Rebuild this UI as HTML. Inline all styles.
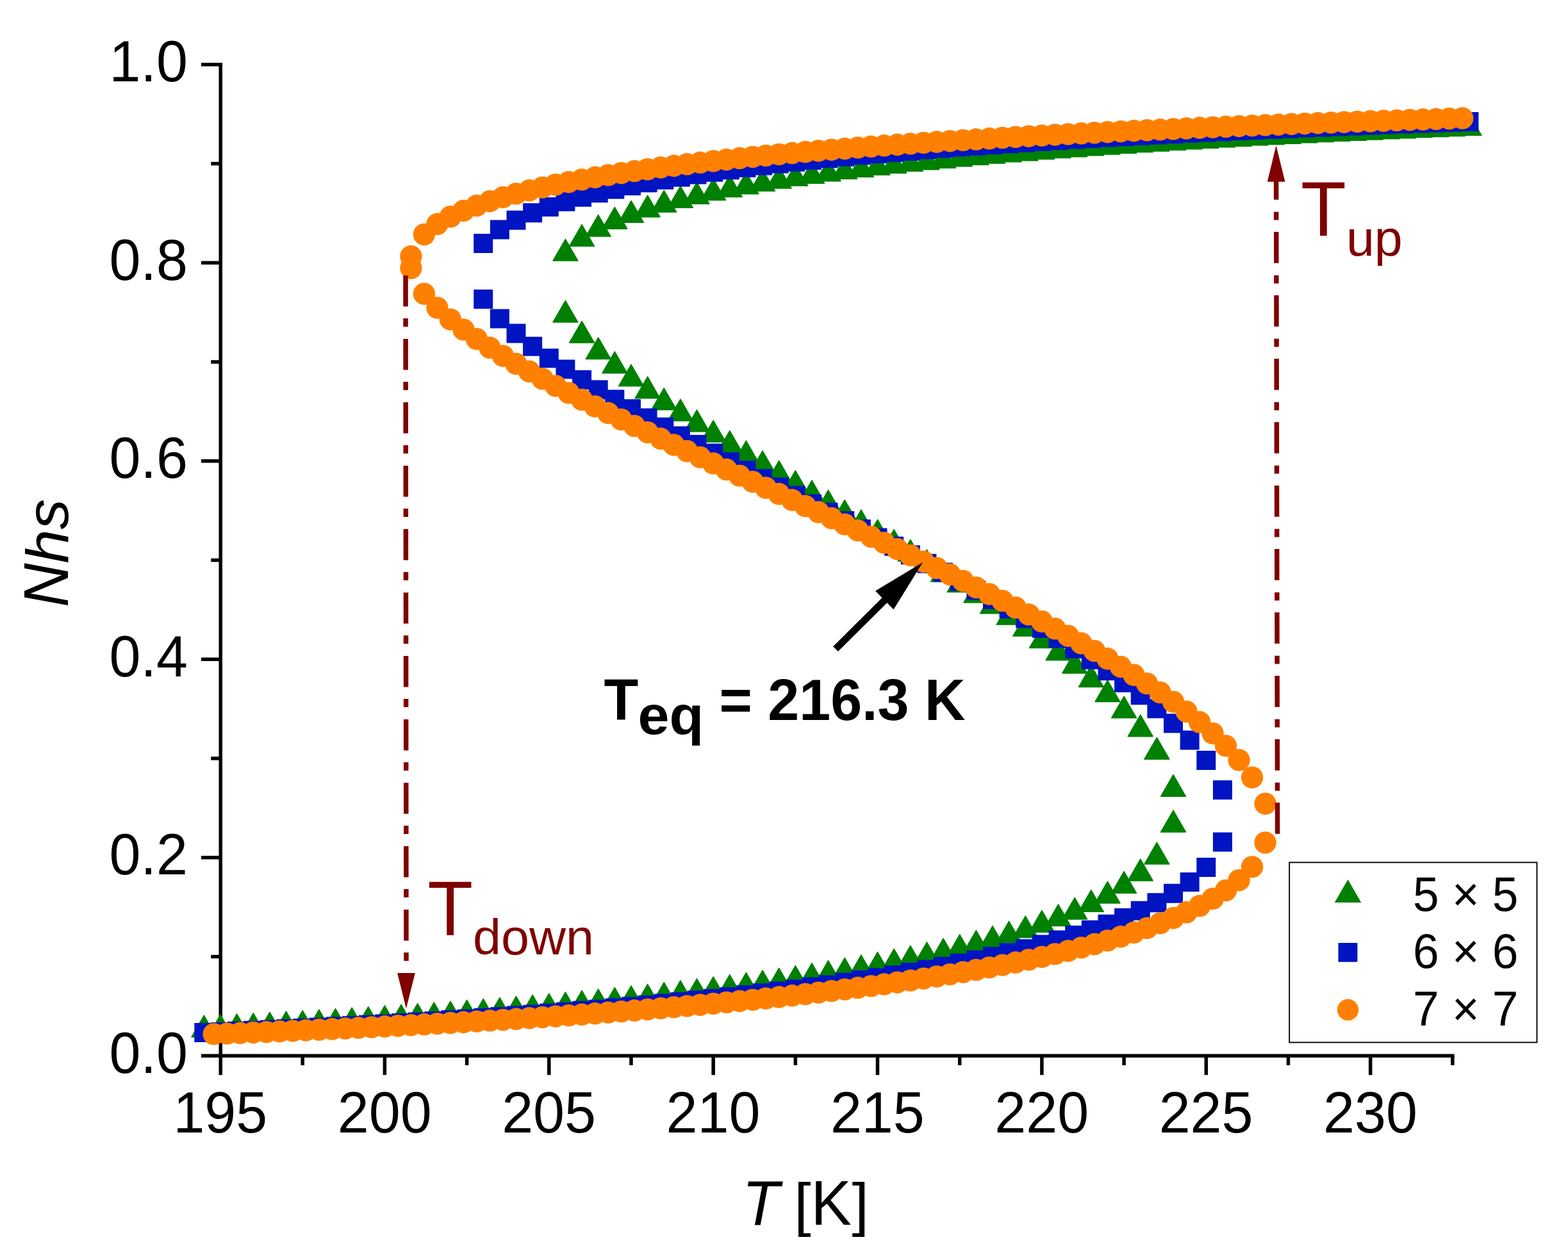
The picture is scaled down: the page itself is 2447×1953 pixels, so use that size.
<!DOCTYPE html>
<html lang="en"><head><meta charset="utf-8"><title>Nhs vs T</title>
<style>
html,body{margin:0;padding:0;background:#fff;}
body{width:2447px;height:1953px;overflow:hidden;}
svg{display:block;}
text{font-family:"Liberation Sans",Arial,Helvetica,sans-serif;font-kerning:none;}
</style></head><body>
<svg width="2447" height="1953" viewBox="0 0 2447 1953">
<rect width="2447" height="1953" fill="#fff"/>
<g stroke="#000" stroke-width="5.5" fill="none">
<path d="M344.25 97.95V1678.2"/>
<path d="M314 1648.3H2269.6"/>
<path d="M344.25 1493.54h-15M344.25 1338.78h-30.3M344.25 1184.02h-15M344.25 1029.26h-30.3M344.25 874.5h-15M344.25 719.74h-30.3M344.25 564.98h-15M344.25 410.22h-30.3M344.25 255.46h-15M344.25 100.7h-30.3"/>
<path d="M472.19 1648.3v14.8M600.38 1648.3v30M728.57 1648.3v14.8M856.76 1648.3v30M984.95 1648.3v14.8M1113.14 1648.3v30M1241.33 1648.3v14.8M1369.52 1648.3v30M1497.71 1648.3v14.8M1625.9 1648.3v30M1754.09 1648.3v14.8M1882.28 1648.3v30M2010.47 1648.3v14.8M2138.66 1648.3v30M2266.85 1648.3v14.8"/>
</g>
<g fill="#000">
<text transform="translate(292.9 1675) scale(1 1.04)" font-size="88" text-anchor="end">0.0</text>
<text transform="translate(292.9 1365.48) scale(1 1.04)" font-size="88" text-anchor="end">0.2</text>
<text transform="translate(292.9 1055.96) scale(1 1.04)" font-size="88" text-anchor="end">0.4</text>
<text transform="translate(292.9 746.44) scale(1 1.04)" font-size="88" text-anchor="end">0.6</text>
<text transform="translate(292.9 436.92) scale(1 1.04)" font-size="88" text-anchor="end">0.8</text>
<text transform="translate(292.9 127.4) scale(1 1.04)" font-size="88" text-anchor="end">1.0</text>
<text transform="translate(343.8 1768) scale(1 1.04)" font-size="88" text-anchor="middle">195</text>
<text transform="translate(600.18 1768) scale(1 1.04)" font-size="88" text-anchor="middle">200</text>
<text transform="translate(856.56 1768) scale(1 1.04)" font-size="88" text-anchor="middle">205</text>
<text transform="translate(1112.94 1768) scale(1 1.04)" font-size="88" text-anchor="middle">210</text>
<text transform="translate(1369.32 1768) scale(1 1.04)" font-size="88" text-anchor="middle">215</text>
<text transform="translate(1625.7 1768) scale(1 1.04)" font-size="88" text-anchor="middle">220</text>
<text transform="translate(1882.08 1768) scale(1 1.04)" font-size="88" text-anchor="middle">225</text>
<text transform="translate(2138.46 1768) scale(1 1.04)" font-size="88" text-anchor="middle">230</text>
<text transform="translate(106 948) rotate(-90) scale(1 1.04)" font-size="95" font-style="italic">N</text>
<text transform="translate(106 879.41) rotate(-90) scale(1 0.975)" font-size="95" font-style="italic">hs</text>
<text transform="translate(1158.3 1911.6) scale(1 1.04)" font-size="95" font-style="italic">T</text>
<text transform="translate(1239.2 1911.6) scale(1 0.985)" font-size="95">[</text>
<text transform="translate(1265.61 1911.6) scale(1 1.04)" font-size="95">K</text>
<text transform="translate(1329.58 1911.6) scale(1 0.985)" font-size="95">]</text>
</g>
<g fill="#008000" stroke="#008000" stroke-width="1.4" stroke-linejoin="round">
<path d="M318.36 1585.22l19.5 33.8h-39z"/><path d="M344 1584.03l19.5 33.8h-39z"/><path d="M369.64 1582.79l19.5 33.8h-39z"/><path d="M395.28 1581.52l19.5 33.8h-39z"/><path d="M420.91 1580.22l19.5 33.8h-39z"/><path d="M446.55 1578.88l19.5 33.8h-39z"/><path d="M472.19 1577.5l19.5 33.8h-39z"/><path d="M497.83 1576.08l19.5 33.8h-39z"/><path d="M523.47 1574.61l19.5 33.8h-39z"/><path d="M549.1 1573.11l19.5 33.8h-39z"/><path d="M574.74 1571.56l19.5 33.8h-39z"/><path d="M600.38 1569.96l19.5 33.8h-39z"/><path d="M626.02 1568.31l19.5 33.8h-39z"/><path d="M651.66 1566.62l19.5 33.8h-39z"/><path d="M677.29 1564.87l19.5 33.8h-39z"/><path d="M702.93 1563.07l19.5 33.8h-39z"/><path d="M728.57 1561.22l19.5 33.8h-39z"/><path d="M754.21 1559.31l19.5 33.8h-39z"/><path d="M779.85 1557.33l19.5 33.8h-39z"/><path d="M805.48 1555.3l19.5 33.8h-39z"/><path d="M831.12 1553.2l19.5 33.8h-39z"/><path d="M856.76 1551.03l19.5 33.8h-39z"/><path d="M882.4 1548.79l19.5 33.8h-39z"/><path d="M882.4 469.27l19.5 33.8h-39z"/><path d="M882.4 373.27l19.5 33.8h-39z"/><path d="M908.04 1546.47l19.5 33.8h-39z"/><path d="M908.04 501.37l19.5 33.8h-39z"/><path d="M908.04 350.59l19.5 33.8h-39z"/><path d="M933.67 1544.08l19.5 33.8h-39z"/><path d="M933.67 526.75l19.5 33.8h-39z"/><path d="M933.67 335.32l19.5 33.8h-39z"/><path d="M959.31 1541.6l19.5 33.8h-39z"/><path d="M959.31 548.86l19.5 33.8h-39z"/><path d="M959.31 323.39l19.5 33.8h-39z"/><path d="M984.95 1539.04l19.5 33.8h-39z"/><path d="M984.95 569.04l19.5 33.8h-39z"/><path d="M984.95 313.46l19.5 33.8h-39z"/><path d="M1010.59 1536.39l19.5 33.8h-39z"/><path d="M1010.59 587.93l19.5 33.8h-39z"/><path d="M1010.59 304.91l19.5 33.8h-39z"/><path d="M1036.23 1533.65l19.5 33.8h-39z"/><path d="M1036.23 605.9l19.5 33.8h-39z"/><path d="M1036.23 297.37l19.5 33.8h-39z"/><path d="M1061.86 1530.8l19.5 33.8h-39z"/><path d="M1061.86 623.19l19.5 33.8h-39z"/><path d="M1061.86 290.62l19.5 33.8h-39z"/><path d="M1087.5 1527.85l19.5 33.8h-39z"/><path d="M1087.5 639.95l19.5 33.8h-39z"/><path d="M1087.5 284.49l19.5 33.8h-39z"/><path d="M1113.14 1524.79l19.5 33.8h-39z"/><path d="M1113.14 656.31l19.5 33.8h-39z"/><path d="M1113.14 278.87l19.5 33.8h-39z"/><path d="M1138.78 1521.61l19.5 33.8h-39z"/><path d="M1138.78 672.34l19.5 33.8h-39z"/><path d="M1138.78 273.69l19.5 33.8h-39z"/><path d="M1164.42 1518.31l19.5 33.8h-39z"/><path d="M1164.42 688.13l19.5 33.8h-39z"/><path d="M1164.42 268.88l19.5 33.8h-39z"/><path d="M1190.05 1514.87l19.5 33.8h-39z"/><path d="M1190.05 703.73l19.5 33.8h-39z"/><path d="M1190.05 264.39l19.5 33.8h-39z"/><path d="M1215.69 1511.3l19.5 33.8h-39z"/><path d="M1215.69 719.19l19.5 33.8h-39z"/><path d="M1215.69 260.18l19.5 33.8h-39z"/><path d="M1241.33 1507.57l19.5 33.8h-39z"/><path d="M1241.33 734.56l19.5 33.8h-39z"/><path d="M1241.33 256.22l19.5 33.8h-39z"/><path d="M1266.97 1503.69l19.5 33.8h-39z"/><path d="M1266.97 749.86l19.5 33.8h-39z"/><path d="M1266.97 252.48l19.5 33.8h-39z"/><path d="M1292.61 1499.63l19.5 33.8h-39z"/><path d="M1292.61 765.14l19.5 33.8h-39z"/><path d="M1292.61 248.94l19.5 33.8h-39z"/><path d="M1318.24 1495.38l19.5 33.8h-39z"/><path d="M1318.24 780.43l19.5 33.8h-39z"/><path d="M1318.24 245.58l19.5 33.8h-39z"/><path d="M1343.88 1490.94l19.5 33.8h-39z"/><path d="M1343.88 795.76l19.5 33.8h-39z"/><path d="M1343.88 242.38l19.5 33.8h-39z"/><path d="M1369.52 1486.28l19.5 33.8h-39z"/><path d="M1369.52 811.16l19.5 33.8h-39z"/><path d="M1369.52 239.33l19.5 33.8h-39z"/><path d="M1395.16 1481.38l19.5 33.8h-39z"/><path d="M1395.16 826.66l19.5 33.8h-39z"/><path d="M1395.16 236.41l19.5 33.8h-39z"/><path d="M1420.8 1476.23l19.5 33.8h-39z"/><path d="M1420.8 842.31l19.5 33.8h-39z"/><path d="M1420.8 233.62l19.5 33.8h-39z"/><path d="M1446.43 1470.79l19.5 33.8h-39z"/><path d="M1446.43 858.12l19.5 33.8h-39z"/><path d="M1446.43 230.95l19.5 33.8h-39z"/><path d="M1472.07 1465.04l19.5 33.8h-39z"/><path d="M1472.07 874.15l19.5 33.8h-39z"/><path d="M1472.07 228.38l19.5 33.8h-39z"/><path d="M1497.71 1458.94l19.5 33.8h-39z"/><path d="M1497.71 890.43l19.5 33.8h-39z"/><path d="M1497.71 225.92l19.5 33.8h-39z"/><path d="M1523.35 1452.45l19.5 33.8h-39z"/><path d="M1523.35 907.02l19.5 33.8h-39z"/><path d="M1523.35 223.54l19.5 33.8h-39z"/><path d="M1548.99 1445.52l19.5 33.8h-39z"/><path d="M1548.99 923.97l19.5 33.8h-39z"/><path d="M1548.99 221.26l19.5 33.8h-39z"/><path d="M1574.62 1438.09l19.5 33.8h-39z"/><path d="M1574.62 941.35l19.5 33.8h-39z"/><path d="M1574.62 219.05l19.5 33.8h-39z"/><path d="M1600.26 1430.07l19.5 33.8h-39z"/><path d="M1600.26 959.25l19.5 33.8h-39z"/><path d="M1600.26 216.92l19.5 33.8h-39z"/><path d="M1625.9 1421.38l19.5 33.8h-39z"/><path d="M1625.9 977.77l19.5 33.8h-39z"/><path d="M1625.9 214.86l19.5 33.8h-39z"/><path d="M1651.54 1411.86l19.5 33.8h-39z"/><path d="M1651.54 997.04l19.5 33.8h-39z"/><path d="M1651.54 212.87l19.5 33.8h-39z"/><path d="M1677.18 1401.35l19.5 33.8h-39z"/><path d="M1677.18 1017.27l19.5 33.8h-39z"/><path d="M1677.18 210.94l19.5 33.8h-39z"/><path d="M1702.81 1389.58l19.5 33.8h-39z"/><path d="M1702.81 1038.7l19.5 33.8h-39z"/><path d="M1702.81 209.08l19.5 33.8h-39z"/><path d="M1728.45 1376.16l19.5 33.8h-39z"/><path d="M1728.45 1061.75l19.5 33.8h-39z"/><path d="M1728.45 207.27l19.5 33.8h-39z"/><path d="M1754.09 1360.43l19.5 33.8h-39z"/><path d="M1754.09 1087.07l19.5 33.8h-39z"/><path d="M1754.09 205.51l19.5 33.8h-39z"/><path d="M1779.73 1341.13l19.5 33.8h-39z"/><path d="M1779.73 1115.91l19.5 33.8h-39z"/><path d="M1779.73 203.81l19.5 33.8h-39z"/><path d="M1805.37 1315.18l19.5 33.8h-39z"/><path d="M1805.37 1151.38l19.5 33.8h-39z"/><path d="M1805.37 202.15l19.5 33.8h-39z"/><path d="M1831 1265.17l19.5 33.8h-39z"/><path d="M1831 1209.47l19.5 33.8h-39z"/><path d="M1831 200.54l19.5 33.8h-39z"/><path d="M1856.64 198.98l19.5 33.8h-39z"/><path d="M1882.28 197.45l19.5 33.8h-39z"/><path d="M1907.92 195.97l19.5 33.8h-39z"/><path d="M1933.56 194.53l19.5 33.8h-39z"/><path d="M1959.19 193.12l19.5 33.8h-39z"/><path d="M1984.83 191.75l19.5 33.8h-39z"/><path d="M2010.47 190.42l19.5 33.8h-39z"/><path d="M2036.11 189.11l19.5 33.8h-39z"/><path d="M2061.75 187.84l19.5 33.8h-39z"/><path d="M2087.38 186.59l19.5 33.8h-39z"/><path d="M2113.02 185.38l19.5 33.8h-39z"/><path d="M2138.66 184.19l19.5 33.8h-39z"/><path d="M2164.3 183.03l19.5 33.8h-39z"/><path d="M2189.94 181.9l19.5 33.8h-39z"/><path d="M2215.57 180.79l19.5 33.8h-39z"/><path d="M2241.21 179.71l19.5 33.8h-39z"/><path d="M2266.85 178.65l19.5 33.8h-39z"/><path d="M2292.49 177.61l19.5 33.8h-39z"/>
</g>
<g fill="#0014c2" stroke="#0014c2" stroke-width="1.4" stroke-linejoin="round">
<rect x="304.06" y="1597.72" width="28.6" height="28.6"/><rect x="329.7" y="1596.65" width="28.6" height="28.6"/><rect x="355.34" y="1595.55" width="28.6" height="28.6"/><rect x="380.98" y="1594.42" width="28.6" height="28.6"/><rect x="406.61" y="1593.26" width="28.6" height="28.6"/><rect x="432.25" y="1592.06" width="28.6" height="28.6"/><rect x="457.89" y="1590.83" width="28.6" height="28.6"/><rect x="483.53" y="1589.57" width="28.6" height="28.6"/><rect x="509.17" y="1588.27" width="28.6" height="28.6"/><rect x="534.8" y="1586.93" width="28.6" height="28.6"/><rect x="560.44" y="1585.55" width="28.6" height="28.6"/><rect x="586.08" y="1584.14" width="28.6" height="28.6"/><rect x="611.72" y="1582.68" width="28.6" height="28.6"/><rect x="637.36" y="1581.18" width="28.6" height="28.6"/><rect x="662.99" y="1579.63" width="28.6" height="28.6"/><rect x="688.63" y="1578.04" width="28.6" height="28.6"/><rect x="714.27" y="1576.4" width="28.6" height="28.6"/><rect x="739.91" y="1574.72" width="28.6" height="28.6"/><rect x="739.91" y="452.8" width="28.6" height="28.6"/><rect x="739.91" y="365.6" width="28.6" height="28.6"/><rect x="765.55" y="1572.98" width="28.6" height="28.6"/><rect x="765.55" y="483.1" width="28.6" height="28.6"/><rect x="765.55" y="344.3" width="28.6" height="28.6"/><rect x="791.18" y="1571.18" width="28.6" height="28.6"/><rect x="791.18" y="506.14" width="28.6" height="28.6"/><rect x="791.18" y="329.36" width="28.6" height="28.6"/><rect x="816.82" y="1569.34" width="28.6" height="28.6"/><rect x="816.82" y="526.52" width="28.6" height="28.6"/><rect x="816.82" y="318.01" width="28.6" height="28.6"/><rect x="842.46" y="1567.43" width="28.6" height="28.6"/><rect x="842.46" y="545.02" width="28.6" height="28.6"/><rect x="842.46" y="308.6" width="28.6" height="28.6"/><rect x="868.1" y="1565.46" width="28.6" height="28.6"/><rect x="868.1" y="562.26" width="28.6" height="28.6"/><rect x="868.1" y="300.49" width="28.6" height="28.6"/><rect x="893.74" y="1563.44" width="28.6" height="28.6"/><rect x="893.74" y="578.58" width="28.6" height="28.6"/><rect x="893.74" y="293.34" width="28.6" height="28.6"/><rect x="919.37" y="1561.34" width="28.6" height="28.6"/><rect x="919.37" y="594.22" width="28.6" height="28.6"/><rect x="919.37" y="286.94" width="28.6" height="28.6"/><rect x="945.01" y="1559.18" width="28.6" height="28.6"/><rect x="945.01" y="609.31" width="28.6" height="28.6"/><rect x="945.01" y="281.14" width="28.6" height="28.6"/><rect x="970.65" y="1556.95" width="28.6" height="28.6"/><rect x="970.65" y="623.98" width="28.6" height="28.6"/><rect x="970.65" y="275.82" width="28.6" height="28.6"/><rect x="996.29" y="1554.64" width="28.6" height="28.6"/><rect x="996.29" y="638.3" width="28.6" height="28.6"/><rect x="996.29" y="270.92" width="28.6" height="28.6"/><rect x="1021.93" y="1552.26" width="28.6" height="28.6"/><rect x="1021.93" y="652.34" width="28.6" height="28.6"/><rect x="1021.93" y="266.36" width="28.6" height="28.6"/><rect x="1047.56" y="1549.79" width="28.6" height="28.6"/><rect x="1047.56" y="666.15" width="28.6" height="28.6"/><rect x="1047.56" y="262.12" width="28.6" height="28.6"/><rect x="1073.2" y="1547.24" width="28.6" height="28.6"/><rect x="1073.2" y="679.76" width="28.6" height="28.6"/><rect x="1073.2" y="258.13" width="28.6" height="28.6"/><rect x="1098.84" y="1544.59" width="28.6" height="28.6"/><rect x="1098.84" y="693.23" width="28.6" height="28.6"/><rect x="1098.84" y="254.39" width="28.6" height="28.6"/><rect x="1124.48" y="1541.85" width="28.6" height="28.6"/><rect x="1124.48" y="706.58" width="28.6" height="28.6"/><rect x="1124.48" y="250.85" width="28.6" height="28.6"/><rect x="1150.12" y="1539.02" width="28.6" height="28.6"/><rect x="1150.12" y="719.83" width="28.6" height="28.6"/><rect x="1150.12" y="247.5" width="28.6" height="28.6"/><rect x="1175.75" y="1536.07" width="28.6" height="28.6"/><rect x="1175.75" y="733.01" width="28.6" height="28.6"/><rect x="1175.75" y="244.32" width="28.6" height="28.6"/><rect x="1201.39" y="1533.02" width="28.6" height="28.6"/><rect x="1201.39" y="746.15" width="28.6" height="28.6"/><rect x="1201.39" y="241.3" width="28.6" height="28.6"/><rect x="1227.03" y="1529.84" width="28.6" height="28.6"/><rect x="1227.03" y="759.26" width="28.6" height="28.6"/><rect x="1227.03" y="238.42" width="28.6" height="28.6"/><rect x="1252.67" y="1526.55" width="28.6" height="28.6"/><rect x="1252.67" y="772.36" width="28.6" height="28.6"/><rect x="1252.67" y="235.66" width="28.6" height="28.6"/><rect x="1278.31" y="1523.11" width="28.6" height="28.6"/><rect x="1278.31" y="785.47" width="28.6" height="28.6"/><rect x="1278.31" y="233.03" width="28.6" height="28.6"/><rect x="1303.94" y="1519.54" width="28.6" height="28.6"/><rect x="1303.94" y="798.62" width="28.6" height="28.6"/><rect x="1303.94" y="230.5" width="28.6" height="28.6"/><rect x="1329.58" y="1515.81" width="28.6" height="28.6"/><rect x="1329.58" y="811.82" width="28.6" height="28.6"/><rect x="1329.58" y="228.07" width="28.6" height="28.6"/><rect x="1355.22" y="1511.92" width="28.6" height="28.6"/><rect x="1355.22" y="825.08" width="28.6" height="28.6"/><rect x="1355.22" y="225.74" width="28.6" height="28.6"/><rect x="1380.86" y="1507.86" width="28.6" height="28.6"/><rect x="1380.86" y="838.43" width="28.6" height="28.6"/><rect x="1380.86" y="223.5" width="28.6" height="28.6"/><rect x="1406.5" y="1503.6" width="28.6" height="28.6"/><rect x="1406.5" y="851.9" width="28.6" height="28.6"/><rect x="1406.5" y="221.34" width="28.6" height="28.6"/><rect x="1432.13" y="1499.14" width="28.6" height="28.6"/><rect x="1432.13" y="865.49" width="28.6" height="28.6"/><rect x="1432.13" y="219.26" width="28.6" height="28.6"/><rect x="1457.77" y="1494.46" width="28.6" height="28.6"/><rect x="1457.77" y="879.23" width="28.6" height="28.6"/><rect x="1457.77" y="217.25" width="28.6" height="28.6"/><rect x="1483.41" y="1489.54" width="28.6" height="28.6"/><rect x="1483.41" y="893.15" width="28.6" height="28.6"/><rect x="1483.41" y="215.31" width="28.6" height="28.6"/><rect x="1509.05" y="1484.35" width="28.6" height="28.6"/><rect x="1509.05" y="907.28" width="28.6" height="28.6"/><rect x="1509.05" y="213.43" width="28.6" height="28.6"/><rect x="1534.69" y="1478.87" width="28.6" height="28.6"/><rect x="1534.69" y="921.64" width="28.6" height="28.6"/><rect x="1534.69" y="211.61" width="28.6" height="28.6"/><rect x="1560.32" y="1473.06" width="28.6" height="28.6"/><rect x="1560.32" y="936.28" width="28.6" height="28.6"/><rect x="1560.32" y="209.85" width="28.6" height="28.6"/><rect x="1585.96" y="1466.89" width="28.6" height="28.6"/><rect x="1585.96" y="951.23" width="28.6" height="28.6"/><rect x="1585.96" y="208.14" width="28.6" height="28.6"/><rect x="1611.6" y="1460.3" width="28.6" height="28.6"/><rect x="1611.6" y="966.56" width="28.6" height="28.6"/><rect x="1611.6" y="206.48" width="28.6" height="28.6"/><rect x="1637.24" y="1453.25" width="28.6" height="28.6"/><rect x="1637.24" y="982.3" width="28.6" height="28.6"/><rect x="1637.24" y="204.88" width="28.6" height="28.6"/><rect x="1662.88" y="1445.66" width="28.6" height="28.6"/><rect x="1662.88" y="998.55" width="28.6" height="28.6"/><rect x="1662.88" y="203.31" width="28.6" height="28.6"/><rect x="1688.51" y="1437.44" width="28.6" height="28.6"/><rect x="1688.51" y="1015.4" width="28.6" height="28.6"/><rect x="1688.51" y="201.8" width="28.6" height="28.6"/><rect x="1714.15" y="1428.46" width="28.6" height="28.6"/><rect x="1714.15" y="1032.96" width="28.6" height="28.6"/><rect x="1714.15" y="200.32" width="28.6" height="28.6"/><rect x="1739.79" y="1418.58" width="28.6" height="28.6"/><rect x="1739.79" y="1051.41" width="28.6" height="28.6"/><rect x="1739.79" y="198.89" width="28.6" height="28.6"/><rect x="1765.43" y="1407.55" width="28.6" height="28.6"/><rect x="1765.43" y="1070.97" width="28.6" height="28.6"/><rect x="1765.43" y="197.49" width="28.6" height="28.6"/><rect x="1791.07" y="1395.04" width="28.6" height="28.6"/><rect x="1791.07" y="1092" width="28.6" height="28.6"/><rect x="1791.07" y="196.13" width="28.6" height="28.6"/><rect x="1816.7" y="1380.47" width="28.6" height="28.6"/><rect x="1816.7" y="1115.06" width="28.6" height="28.6"/><rect x="1816.7" y="194.8" width="28.6" height="28.6"/><rect x="1842.34" y="1362.81" width="28.6" height="28.6"/><rect x="1842.34" y="1141.19" width="28.6" height="28.6"/><rect x="1842.34" y="193.51" width="28.6" height="28.6"/><rect x="1867.98" y="1339.67" width="28.6" height="28.6"/><rect x="1867.98" y="1172.79" width="28.6" height="28.6"/><rect x="1867.98" y="192.25" width="28.6" height="28.6"/><rect x="1893.62" y="1300.2" width="28.6" height="28.6"/><rect x="1893.62" y="1218.9" width="28.6" height="28.6"/><rect x="1893.62" y="191.02" width="28.6" height="28.6"/><rect x="1919.26" y="189.82" width="28.6" height="28.6"/><rect x="1944.89" y="188.65" width="28.6" height="28.6"/><rect x="1970.53" y="187.51" width="28.6" height="28.6"/><rect x="1996.17" y="186.39" width="28.6" height="28.6"/><rect x="2021.81" y="185.3" width="28.6" height="28.6"/><rect x="2047.45" y="184.23" width="28.6" height="28.6"/><rect x="2073.08" y="183.19" width="28.6" height="28.6"/><rect x="2098.72" y="182.17" width="28.6" height="28.6"/><rect x="2124.36" y="181.17" width="28.6" height="28.6"/><rect x="2150" y="180.19" width="28.6" height="28.6"/><rect x="2175.64" y="179.23" width="28.6" height="28.6"/><rect x="2201.27" y="178.29" width="28.6" height="28.6"/><rect x="2226.91" y="177.37" width="28.6" height="28.6"/><rect x="2252.55" y="176.47" width="28.6" height="28.6"/><rect x="2278.19" y="175.59" width="28.6" height="28.6"/>
</g>
<g fill="#ff8000">
<circle cx="333.74" cy="1614.38" r="17.2"/><circle cx="354.26" cy="1613.59" r="17.2"/><circle cx="374.77" cy="1612.78" r="17.2"/><circle cx="395.28" cy="1611.95" r="17.2"/><circle cx="415.79" cy="1611.1" r="17.2"/><circle cx="436.3" cy="1610.23" r="17.2"/><circle cx="456.81" cy="1609.34" r="17.2"/><circle cx="477.32" cy="1608.44" r="17.2"/><circle cx="497.83" cy="1607.51" r="17.2"/><circle cx="518.34" cy="1606.56" r="17.2"/><circle cx="538.85" cy="1605.6" r="17.2"/><circle cx="559.36" cy="1604.61" r="17.2"/><circle cx="579.87" cy="1603.59" r="17.2"/><circle cx="600.38" cy="1602.56" r="17.2"/><circle cx="620.89" cy="1601.5" r="17.2"/><circle cx="641.4" cy="1600.41" r="17.2"/><circle cx="641.4" cy="418.5" r="17.2"/><circle cx="641.4" cy="400.1" r="17.2"/><circle cx="661.91" cy="1599.3" r="17.2"/><circle cx="661.91" cy="458.7" r="17.2"/><circle cx="661.91" cy="366" r="17.2"/><circle cx="682.42" cy="1598.17" r="17.2"/><circle cx="682.42" cy="480.54" r="17.2"/><circle cx="682.42" cy="349.8" r="17.2"/><circle cx="702.93" cy="1597.01" r="17.2"/><circle cx="702.93" cy="498.71" r="17.2"/><circle cx="702.93" cy="338.26" r="17.2"/><circle cx="723.44" cy="1595.82" r="17.2"/><circle cx="723.44" cy="514.67" r="17.2"/><circle cx="723.44" cy="328.93" r="17.2"/><circle cx="743.95" cy="1594.6" r="17.2"/><circle cx="743.95" cy="529.23" r="17.2"/><circle cx="743.95" cy="321.03" r="17.2"/><circle cx="764.46" cy="1593.36" r="17.2"/><circle cx="764.46" cy="542.82" r="17.2"/><circle cx="764.46" cy="314.12" r="17.2"/><circle cx="784.97" cy="1592.09" r="17.2"/><circle cx="784.97" cy="555.68" r="17.2"/><circle cx="784.97" cy="307.96" r="17.2"/><circle cx="805.48" cy="1590.78" r="17.2"/><circle cx="805.48" cy="567.98" r="17.2"/><circle cx="805.48" cy="302.39" r="17.2"/><circle cx="825.99" cy="1589.45" r="17.2"/><circle cx="825.99" cy="579.81" r="17.2"/><circle cx="825.99" cy="297.3" r="17.2"/><circle cx="846.5" cy="1588.08" r="17.2"/><circle cx="846.5" cy="591.28" r="17.2"/><circle cx="846.5" cy="292.61" r="17.2"/><circle cx="867.02" cy="1586.68" r="17.2"/><circle cx="867.02" cy="602.43" r="17.2"/><circle cx="867.02" cy="288.26" r="17.2"/><circle cx="887.53" cy="1585.24" r="17.2"/><circle cx="887.53" cy="613.33" r="17.2"/><circle cx="887.53" cy="284.2" r="17.2"/><circle cx="908.04" cy="1583.77" r="17.2"/><circle cx="908.04" cy="624" r="17.2"/><circle cx="908.04" cy="280.39" r="17.2"/><circle cx="928.55" cy="1582.27" r="17.2"/><circle cx="928.55" cy="634.48" r="17.2"/><circle cx="928.55" cy="276.8" r="17.2"/><circle cx="949.06" cy="1580.72" r="17.2"/><circle cx="949.06" cy="644.79" r="17.2"/><circle cx="949.06" cy="273.41" r="17.2"/><circle cx="969.57" cy="1579.14" r="17.2"/><circle cx="969.57" cy="654.96" r="17.2"/><circle cx="969.57" cy="270.2" r="17.2"/><circle cx="990.08" cy="1577.52" r="17.2"/><circle cx="990.08" cy="665" r="17.2"/><circle cx="990.08" cy="267.15" r="17.2"/><circle cx="1010.59" cy="1575.85" r="17.2"/><circle cx="1010.59" cy="674.94" r="17.2"/><circle cx="1010.59" cy="264.24" r="17.2"/><circle cx="1031.1" cy="1574.14" r="17.2"/><circle cx="1031.1" cy="684.79" r="17.2"/><circle cx="1031.1" cy="261.46" r="17.2"/><circle cx="1051.61" cy="1572.39" r="17.2"/><circle cx="1051.61" cy="694.56" r="17.2"/><circle cx="1051.61" cy="258.81" r="17.2"/><circle cx="1072.12" cy="1570.59" r="17.2"/><circle cx="1072.12" cy="704.26" r="17.2"/><circle cx="1072.12" cy="256.26" r="17.2"/><circle cx="1092.63" cy="1568.74" r="17.2"/><circle cx="1092.63" cy="713.9" r="17.2"/><circle cx="1092.63" cy="253.82" r="17.2"/><circle cx="1113.14" cy="1566.84" r="17.2"/><circle cx="1113.14" cy="723.5" r="17.2"/><circle cx="1113.14" cy="251.47" r="17.2"/><circle cx="1133.65" cy="1564.9" r="17.2"/><circle cx="1133.65" cy="733.05" r="17.2"/><circle cx="1133.65" cy="249.21" r="17.2"/><circle cx="1154.16" cy="1562.89" r="17.2"/><circle cx="1154.16" cy="742.58" r="17.2"/><circle cx="1154.16" cy="247.04" r="17.2"/><circle cx="1174.67" cy="1560.83" r="17.2"/><circle cx="1174.67" cy="752.08" r="17.2"/><circle cx="1174.67" cy="244.94" r="17.2"/><circle cx="1195.18" cy="1558.72" r="17.2"/><circle cx="1195.18" cy="761.57" r="17.2"/><circle cx="1195.18" cy="242.91" r="17.2"/><circle cx="1215.69" cy="1556.54" r="17.2"/><circle cx="1215.69" cy="771.06" r="17.2"/><circle cx="1215.69" cy="240.95" r="17.2"/><circle cx="1236.2" cy="1554.3" r="17.2"/><circle cx="1236.2" cy="780.54" r="17.2"/><circle cx="1236.2" cy="239.05" r="17.2"/><circle cx="1256.71" cy="1551.99" r="17.2"/><circle cx="1256.71" cy="790.03" r="17.2"/><circle cx="1256.71" cy="237.22" r="17.2"/><circle cx="1277.22" cy="1549.61" r="17.2"/><circle cx="1277.22" cy="799.53" r="17.2"/><circle cx="1277.22" cy="235.44" r="17.2"/><circle cx="1297.73" cy="1547.16" r="17.2"/><circle cx="1297.73" cy="809.05" r="17.2"/><circle cx="1297.73" cy="233.71" r="17.2"/><circle cx="1318.24" cy="1544.63" r="17.2"/><circle cx="1318.24" cy="818.59" r="17.2"/><circle cx="1318.24" cy="232.03" r="17.2"/><circle cx="1338.75" cy="1542.03" r="17.2"/><circle cx="1338.75" cy="828.18" r="17.2"/><circle cx="1338.75" cy="230.41" r="17.2"/><circle cx="1359.26" cy="1539.34" r="17.2"/><circle cx="1359.26" cy="837.8" r="17.2"/><circle cx="1359.26" cy="228.82" r="17.2"/><circle cx="1379.78" cy="1536.56" r="17.2"/><circle cx="1379.78" cy="847.46" r="17.2"/><circle cx="1379.78" cy="227.28" r="17.2"/><circle cx="1400.29" cy="1533.69" r="17.2"/><circle cx="1400.29" cy="857.18" r="17.2"/><circle cx="1400.29" cy="225.79" r="17.2"/><circle cx="1420.8" cy="1530.72" r="17.2"/><circle cx="1420.8" cy="866.97" r="17.2"/><circle cx="1420.8" cy="224.33" r="17.2"/><circle cx="1441.31" cy="1527.64" r="17.2"/><circle cx="1441.31" cy="876.82" r="17.2"/><circle cx="1441.31" cy="222.91" r="17.2"/><circle cx="1461.82" cy="1524.46" r="17.2"/><circle cx="1461.82" cy="886.75" r="17.2"/><circle cx="1461.82" cy="221.52" r="17.2"/><circle cx="1482.33" cy="1521.15" r="17.2"/><circle cx="1482.33" cy="896.76" r="17.2"/><circle cx="1482.33" cy="220.18" r="17.2"/><circle cx="1502.84" cy="1517.72" r="17.2"/><circle cx="1502.84" cy="906.88" r="17.2"/><circle cx="1502.84" cy="218.86" r="17.2"/><circle cx="1523.35" cy="1514.16" r="17.2"/><circle cx="1523.35" cy="917.1" r="17.2"/><circle cx="1523.35" cy="217.57" r="17.2"/><circle cx="1543.86" cy="1510.46" r="17.2"/><circle cx="1543.86" cy="927.43" r="17.2"/><circle cx="1543.86" cy="216.32" r="17.2"/><circle cx="1564.37" cy="1506.6" r="17.2"/><circle cx="1564.37" cy="937.9" r="17.2"/><circle cx="1564.37" cy="215.09" r="17.2"/><circle cx="1584.88" cy="1502.57" r="17.2"/><circle cx="1584.88" cy="948.51" r="17.2"/><circle cx="1584.88" cy="213.9" r="17.2"/><circle cx="1605.39" cy="1498.37" r="17.2"/><circle cx="1605.39" cy="959.27" r="17.2"/><circle cx="1605.39" cy="212.72" r="17.2"/><circle cx="1625.9" cy="1493.97" r="17.2"/><circle cx="1625.9" cy="970.22" r="17.2"/><circle cx="1625.9" cy="211.58" r="17.2"/><circle cx="1646.41" cy="1489.36" r="17.2"/><circle cx="1646.41" cy="981.35" r="17.2"/><circle cx="1646.41" cy="210.46" r="17.2"/><circle cx="1666.92" cy="1484.52" r="17.2"/><circle cx="1666.92" cy="992.7" r="17.2"/><circle cx="1666.92" cy="209.36" r="17.2"/><circle cx="1687.43" cy="1479.42" r="17.2"/><circle cx="1687.43" cy="1004.29" r="17.2"/><circle cx="1687.43" cy="208.29" r="17.2"/><circle cx="1707.94" cy="1474.03" r="17.2"/><circle cx="1707.94" cy="1016.15" r="17.2"/><circle cx="1707.94" cy="207.24" r="17.2"/><circle cx="1728.45" cy="1468.33" r="17.2"/><circle cx="1728.45" cy="1028.32" r="17.2"/><circle cx="1728.45" cy="206.21" r="17.2"/><circle cx="1748.96" cy="1462.27" r="17.2"/><circle cx="1748.96" cy="1040.83" r="17.2"/><circle cx="1748.96" cy="205.2" r="17.2"/><circle cx="1769.47" cy="1455.8" r="17.2"/><circle cx="1769.47" cy="1053.74" r="17.2"/><circle cx="1769.47" cy="204.22" r="17.2"/><circle cx="1789.98" cy="1448.85" r="17.2"/><circle cx="1789.98" cy="1067.11" r="17.2"/><circle cx="1789.98" cy="203.25" r="17.2"/><circle cx="1810.49" cy="1441.36" r="17.2"/><circle cx="1810.49" cy="1081.02" r="17.2"/><circle cx="1810.49" cy="202.3" r="17.2"/><circle cx="1831" cy="1433.21" r="17.2"/><circle cx="1831" cy="1095.58" r="17.2"/><circle cx="1831" cy="201.37" r="17.2"/><circle cx="1851.51" cy="1424.27" r="17.2"/><circle cx="1851.51" cy="1110.93" r="17.2"/><circle cx="1851.51" cy="200.46" r="17.2"/><circle cx="1872.02" cy="1414.32" r="17.2"/><circle cx="1872.02" cy="1127.27" r="17.2"/><circle cx="1872.02" cy="199.56" r="17.2"/><circle cx="1892.54" cy="1403.06" r="17.2"/><circle cx="1892.54" cy="1144.92" r="17.2"/><circle cx="1892.54" cy="198.68" r="17.2"/><circle cx="1913.05" cy="1389.99" r="17.2"/><circle cx="1913.05" cy="1164.37" r="17.2"/><circle cx="1913.05" cy="197.82" r="17.2"/><circle cx="1933.56" cy="1374.17" r="17.2"/><circle cx="1933.56" cy="1186.57" r="17.2"/><circle cx="1933.56" cy="196.97" r="17.2"/><circle cx="1954.07" cy="1353.4" r="17.2"/><circle cx="1954.07" cy="1213.73" r="17.2"/><circle cx="1954.07" cy="196.14" r="17.2"/><circle cx="1974.58" cy="1315.5" r="17.2"/><circle cx="1974.58" cy="1254.7" r="17.2"/><circle cx="1974.58" cy="195.32" r="17.2"/><circle cx="1995.09" cy="194.52" r="17.2"/><circle cx="2015.6" cy="193.73" r="17.2"/><circle cx="2036.11" cy="192.95" r="17.2"/><circle cx="2056.62" cy="192.19" r="17.2"/><circle cx="2077.13" cy="191.44" r="17.2"/><circle cx="2097.64" cy="190.7" r="17.2"/><circle cx="2118.15" cy="189.98" r="17.2"/><circle cx="2138.66" cy="189.26" r="17.2"/><circle cx="2159.17" cy="188.56" r="17.2"/><circle cx="2179.68" cy="187.87" r="17.2"/><circle cx="2200.19" cy="187.19" r="17.2"/><circle cx="2220.7" cy="186.52" r="17.2"/><circle cx="2241.21" cy="185.86" r="17.2"/><circle cx="2261.72" cy="185.21" r="17.2"/><circle cx="2282.23" cy="184.57" r="17.2"/>
</g>
<g stroke="#800000" stroke-width="7.5" fill="none" stroke-dasharray="48.6 18.5 12.8 19.1">
<path d="M633 430L634 1520"/>
<path d="M1993.6 1301.7L1991.6 283"/>
</g>
<g fill="#800000">
<path d="M620.1 1519h27.7L633.9 1574.6z"/>
<path d="M1977.8 283.7h27.7L1991.5 227.2z"/>
<text transform="translate(2030 368.4) scale(1 1.037)" font-size="116">T</text>
<text transform="translate(2100.88 399.2) scale(1 0.975)" font-size="79">up</text>
<text transform="translate(667.2 1459.8) scale(1 1.037)" font-size="116">T</text>
<text transform="translate(738.08 1490) scale(1 0.975)" font-size="79">down</text>
</g>
<path d="M1304 1013.1L1385 932.6" stroke="#000" stroke-width="11" fill="none"/>
<path d="M1440 878L1366.1 922.5L1394.5 951.6z" fill="#000"/>
<g fill="#000">
<text transform="translate(942.5 1123.9) scale(1 1.04)" font-size="88" font-weight="bold">T</text>
<text transform="translate(995.47 1145.5) scale(1 0.975)" font-size="88" font-weight="bold">eq</text>
<text transform="translate(1122.43 1123.9) scale(1 1.04)" font-size="88" font-weight="bold">= 216.3 K</text>
</g>
<rect x="2012.2" y="1346.4" width="386.3" height="281" fill="#fff" stroke="#000" stroke-width="1.9"/>
<path fill="#008000" d="M2103.5 1373l20.75 36.1h-41.5z"/>
<rect fill="#0014c2" x="2088.5" y="1471.9" width="29.9" height="29.9" rx="0.7"/>
<circle fill="#ff8000" cx="2103.5" cy="1576.5" r="16.7"/>
<g fill="#000">
<text transform="translate(2205 1421.5) scale(1 1.04)" font-size="73">5 × 5</text>
<text transform="translate(2205 1511.2) scale(1 1.04)" font-size="73">6 × 6</text>
<text transform="translate(2205 1601) scale(1 1.04)" font-size="73">7 × 7</text>
</g>
</svg>
</body></html>
